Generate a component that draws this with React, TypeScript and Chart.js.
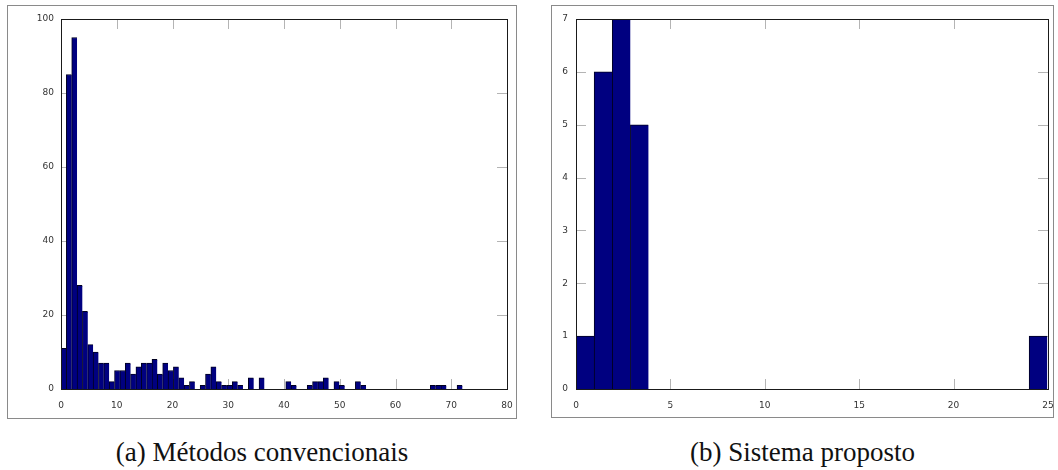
import React, { useEffect, useRef } from "react";
import { Chart, registerables } from "chart.js";

Chart.register(...registerables);

// ---------- data ----------
const binWidth = 0.96;

const convCounts = [
  11, 85, 95, 28, 21, 12, 10, 7, 7, 2,
  5, 5, 7, 4, 6, 7, 7, 8, 4, 7,
  5, 6, 3, 1, 2, 0, 1, 4, 6, 2,
  1, 1, 2, 1, 0, 3, 0, 3, 0, 0,
  0, 0, 2, 1, 0, 0, 1, 2, 2, 3,
  0, 2, 1, 0, 0, 2, 1, 0, 0, 0,
  0, 0, 0, 0, 0, 0, 0, 0, 0, 1,
  1, 1, 0, 0, 1,
];

const propCounts = [
  1, 6, 7, 5, 0, 0, 0, 0, 0, 0,
  0, 0, 0, 0, 0, 0, 0, 0, 0, 0,
  0, 0, 0, 0, 0, 1,
];

const convXRange = [0, 80];
const convXStep = 10;
const convYRange = [0, 100];
const convYStep = 20;

const propXRange = [0, 25];
const propXStep = 5;
const propYRange = [0, 7];
const propYStep = 1;

const captionA = "(a) Métodos convencionais";
const captionB = "(b) Sistema proposto";

// ---------- plugin: inward ticks on all sides + frame ----------
const frameTicks = {
  id: "frameTicks",
  beforeDatasetsDraw(chart: any) {
    const { ctx, chartArea } = chart;
    const { left, right, top, bottom } = chartArea;
    const xs = chart.scales.x;
    const ys = chart.scales.y;
    const len = 10;
    ctx.save();
    ctx.strokeStyle = "#b4b4b4";
    ctx.lineWidth = 1;
    ctx.beginPath();
    xs.ticks.forEach((t: any) => {
      const px = Math.round(xs.getPixelForValue(t.value)) + 0.5;
      ctx.moveTo(px, bottom);
      ctx.lineTo(px, bottom - len);
      ctx.moveTo(px, top);
      ctx.lineTo(px, top + len);
    });
    ys.ticks.forEach((t: any) => {
      const py = Math.round(ys.getPixelForValue(t.value)) + 0.5;
      ctx.moveTo(left, py);
      ctx.lineTo(left + len, py);
      ctx.moveTo(right, py);
      ctx.lineTo(right - len, py);
    });
    ctx.stroke();
    ctx.restore();
  },
  afterDatasetsDraw(chart: any) {
    const { ctx, chartArea } = chart;
    const { left, right, top, bottom } = chartArea;
    ctx.save();
    ctx.strokeStyle = "#1a1a1a";
    ctx.lineWidth = 1;
    ctx.strokeRect(
      Math.round(left) + 0.5,
      Math.round(top) + 0.5,
      Math.round(right) - Math.round(left),
      Math.round(bottom) - Math.round(top)
    );
    ctx.restore();
  },
};

function makeConfig(
  counts: number[],
  xr: number[],
  xstep: number,
  yr: number[],
  ystep: number,
  yAxisWidth: number,
  xAxisHeight: number,
  padTop: number,
  padRight: number,
  yPad: number
) {
  const data = counts.map((c, i) => ({ x: (i + 0.5) * binWidth, y: c }));
  const tickFont = { family: "'DejaVu Sans', sans-serif", size: 9 };
  return {
    type: "bar" as const,
    data: {
      datasets: [
        {
          data,
          backgroundColor: "#000080",
          borderColor: "#000020",
          borderWidth: { left: 1, top: 1, right: 0, bottom: 0 },
          borderSkipped: false,
          barPercentage: 1,
          categoryPercentage: 1,
          grouped: false,
        },
      ],
    },
    options: {
      responsive: false,
      animation: false,
      layout: { padding: { top: padTop, right: padRight, left: 0, bottom: 0 } },
      plugins: { legend: { display: false }, tooltip: { enabled: false } },
      scales: {
        x: {
          type: "linear",
          offset: false,
          min: xr[0],
          max: xr[1],
          grid: { display: false, drawTicks: false },
          border: { display: false },
          ticks: { stepSize: xstep, font: tickFont, color: "#333", padding: 11, maxRotation: 0 },
          afterFit(scale: any) {
            scale.height = xAxisHeight;
            scale.paddingLeft = 0;
            scale.paddingRight = 0;
          },
        },
        y: {
          type: "linear",
          min: yr[0],
          max: yr[1],
          grid: { display: false, drawTicks: false },
          border: { display: false },
          ticks: { stepSize: ystep, font: tickFont, color: "#333", padding: yPad },
          afterFit(scale: any) {
            scale.width = yAxisWidth;
            scale.paddingTop = 0;
            scale.paddingBottom = 0;
          },
        },
      },
    },
    plugins: [frameTicks],
  };
}

function Panel(props: {
  left: number;
  top: number;
  width: number;
  height: number;
  config: any;
}) {
  const ref = useRef<HTMLCanvasElement | null>(null);
  useEffect(() => {
    if (!ref.current) return;
    const chart = new Chart(ref.current, props.config);
    return () => chart.destroy();
  }, []);
  const innerW = props.width - 2;
  const innerH = props.height - 2;
  return (
    <div
      style={{
        position: "absolute",
        left: props.left,
        top: props.top,
        width: props.width,
        height: props.height,
        border: "1px solid #8a8a8a",
        boxSizing: "border-box",
      }}
    >
      <canvas
        ref={ref}
        width={innerW}
        height={innerH}
        style={{ position: "absolute", left: 0, top: 0, width: innerW, height: innerH }}
      />
    </div>
  );
}

export default function App() {
  const cfgA = makeConfig(convCounts, convXRange, convXStep, convYRange, convYStep, 53, 29, 13, 9, 7);
  const cfgB = makeConfig(propCounts, propXRange, propXStep, propYRange, propYStep, 24, 28, 13, 5, 8);
  const capStyle: React.CSSProperties = {
    position: "absolute",
    top: 438,
    height: 28,
    lineHeight: "28px",
    fontFamily: "'Liberation Serif', serif",
    fontSize: 27,
    color: "#111",
    textAlign: "center",
    whiteSpace: "nowrap",
  };
  return (
    <div
      style={{
        position: "fixed",
        left: 0,
        top: 0,
        width: 1058,
        height: 470,
        background: "#fff",
        overflow: "hidden",
      }}
    >
      <Panel left={7} top={5} width={510} height={414} config={cfgA} />
      <Panel left={551} top={5} width={503} height={413} config={cfgB} />
      <div style={{ ...capStyle, left: 7, width: 510 }}>{captionA}</div>
      <div style={{ ...capStyle, left: 551, width: 503 }}>{captionB}</div>
    </div>
  );
}
